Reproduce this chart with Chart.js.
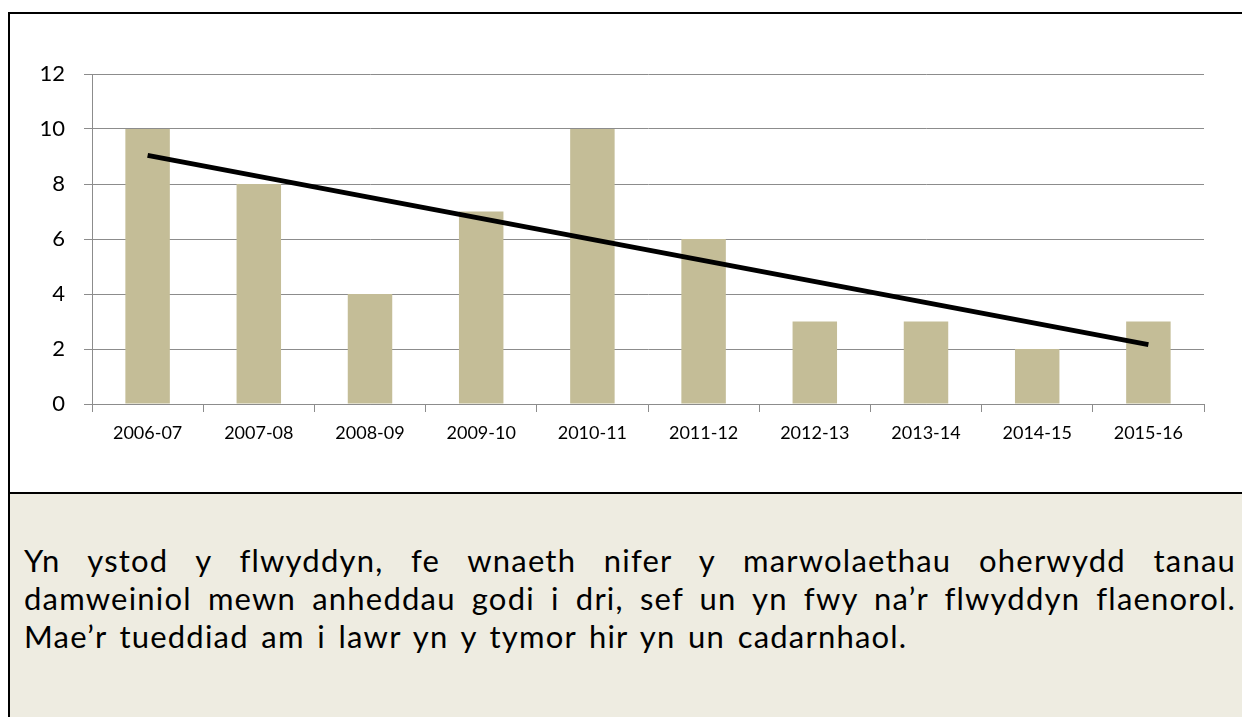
<!DOCTYPE html>
<html>
<head>
<meta charset="utf-8">
<script src="https://cdn.jsdelivr.net/npm/chart.js@4/dist/chart.umd.min.js"></script>
<style>
  html, body { margin: 0; padding: 0; background: #fff; }
  body { width: 1242px; height: 717px; overflow: hidden; position: relative; font-family: Lato, "Open Sans", sans-serif; }
  #frame { position: absolute; left: 8px; top: 12px; width: 1250px; height: 720px; border-left: 2px solid #000; border-top: 2px solid #000; }
  #chartbox { position: absolute; left: 0; top: 0; width: 1232px; height: 478px; background: #fff; border-bottom: 2px solid #000; }
  #note { position: absolute; left: 0; top: 480px; width: 1250px; height: 240px; background: #eeece1; }
  #note div { position: absolute; left: 14px; width: 1212px; font-size: 31px; letter-spacing: 1.2px; color: #000;
              text-align: justify; text-align-last: justify; white-space: nowrap; }
  #note div.last { text-align: left; text-align-last: left; word-spacing: 3.5px; }
</style>
</head>
<body>
<div id="frame">
  <div id="chartbox"><canvas id="barchart"></canvas></div>
  <div id="note">
    <div style="top:47px">Yn ystod y flwyddyn, fe wnaeth nifer y marwolaethau oherwydd tanau</div>
    <div style="top:85px">damweiniol mewn anheddau godi i dri, sef un yn fwy na’r flwyddyn flaenorol.</div>
    <div class="last" style="top:123px">Mae’r tueddiad am i lawr yn y tymor hir yn un cadarnhaol.</div>
  </div>
</div>
<script>
var years = ["2006-07", "2007-08", "2008-09", "2009-10", "2010-11", "2011-12", "2012-13", "2013-14", "2014-15", "2015-16"];
var deaths = [10, 8, 4, 7, 10, 6, 3, 3, 2, 3];
// trend line at first and last year
var trendYears = ["2006-07", "2015-16"];
var trendValues = [9.04, 2.16];
var yTicks = [0, 2, 4, 6, 8, 10, 12];

var gridGrey = "#8c8c8c";

var trendData = trendYears.map(function(y, i) {
  return { x: y, y: trendValues[i] };
});

var ctx = document.getElementById("barchart");
var myChart = new Chart(ctx, {
  data: {
    labels: years,
    datasets: [{
      type: "line",
      data: trendData,
      borderColor: "#000",
      borderWidth: 5,
      pointRadius: 0,
      fill: false,
      order: 0
    }, {
      type: "bar",
      data: deaths,
      backgroundColor: "#c4bd97",
      barPercentage: 0.4,
      categoryPercentage: 1.0,
      order: 1
    }]
  },
  options: {
    responsive: true,
    maintainAspectRatio: false,
    animation: false,
    layout: {
      padding: { top: 60, right: 38, left: 0, bottom: 0 }
    },
    plugins: {
      legend: { display: false },
      tooltip: { enabled: false }
    },
    scales: {
      x: {
        offset: true,
        grid: {
          offset: true,
          drawOnChartArea: false,
          drawTicks: true,
          tickLength: 8,
          color: gridGrey
        },
        border: { display: true, color: gridGrey, width: 1 },
        ticks: {
          color: "#000",
          padding: 10,
          maxRotation: 0,
          font: { family: "Lato", size: 18 }
        },
        afterFit: function(scale) { scale.height = 88; }
      },
      y: {
        min: 0,
        max: 12,
        afterBuildTicks: function(scale) {
          scale.ticks = yTicks.map(function(v) { return { value: v }; });
        },
        grid: {
          color: gridGrey,
          lineWidth: 1,
          drawTicks: true,
          tickLength: 8
        },
        border: { display: true, color: gridGrey, width: 1 },
        ticks: {
          color: "#000",
          padding: 19,
          font: { family: "Lato", size: 22 }
        },
        afterFit: function(scale) { scale.width = 82; }
      }
    }
  }
});
</script>
</body>
</html>
